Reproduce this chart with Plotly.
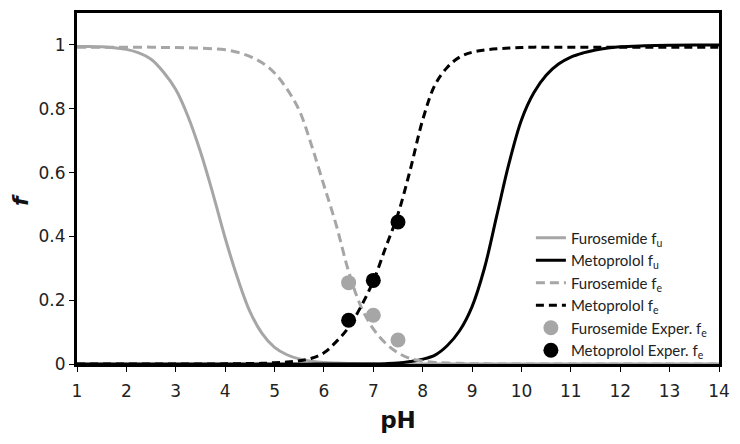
import plotly.graph_objects as go

# pH grid shared by the model curves (1 to 12 every 0.25, then every 0.5)
ph_grid = [1, 1.25, 1.5, 1.75, 2, 2.25, 2.5, 2.75, 3, 3.25, 3.5, 3.75,
           4, 4.25, 4.5, 4.75, 5, 5.25, 5.5, 5.75, 6, 6.25, 6.5, 6.75,
           7, 7.25, 7.5, 7.75, 8, 8.25, 8.5, 8.75, 9, 9.25, 9.5, 9.75,
           10, 10.25, 10.5, 10.75, 11, 11.25, 11.5, 11.75, 12, 12.5, 13, 13.5, 14]

furosemide_fu = [0.995, 0.995, 0.994, 0.991, 0.986, 0.975, 0.955, 0.915, 0.86, 0.775, 0.665, 0.535,
                 0.395, 0.27, 0.165, 0.095, 0.052, 0.029, 0.016, 0.009, 0.005, 0.003, 0.0017, 0.001,
                 0.0005, 0, 0, 0, 0, 0, 0, 0, 0, 0, 0, 0,
                 0, 0, 0, 0, 0, 0, 0, 0, 0, 0, 0, 0, 0]

metoprolol_fu = [0, 0, 0, 0, 0, 0, 0, 0, 0, 0, 0, 0,
                 0, 0, 0, 0, 0, 0, 0, 0, 0, 0, 0, 0,
                 0, 0.001, 0.003, 0.008, 0.015, 0.028, 0.058, 0.105, 0.18, 0.3, 0.465, 0.63,
                 0.765, 0.85, 0.905, 0.94, 0.962, 0.975, 0.984, 0.99, 0.994, 0.997, 0.999, 1.0, 1.0]

furosemide_fe = [0.993, 0.993, 0.993, 0.993, 0.993, 0.993, 0.993, 0.992, 0.992, 0.991, 0.99, 0.988,
                 0.985, 0.977, 0.964, 0.944, 0.912, 0.862, 0.795, 0.685, 0.56, 0.435, 0.29, 0.18,
                 0.11, 0.065, 0.035, 0.017, 0.009, 0.005, 0.003, 0.002, 0.001, 0.0005, 0, 0,
                 0, 0, 0, 0, 0, 0, 0, 0, 0, 0, 0, 0, 0]

metoprolol_fe = [0, 0, 0, 0, 0, 0, 0, 0, 0, 0, 0, 0,
                 0.0005, 0.001, 0.0015, 0.002, 0.004, 0.006, 0.01, 0.018, 0.035, 0.07, 0.115, 0.18,
                 0.26, 0.365, 0.47, 0.61, 0.765, 0.875, 0.93, 0.962, 0.977, 0.984, 0.988, 0.99,
                 0.992, 0.993, 0.993, 0.993, 0.993, 0.993, 0.993, 0.993, 0.993, 0.993, 0.993, 0.993, 0.993]

exp_ph = [6.5, 7.0, 7.5]
furosemide_exp = [0.255, 0.153, 0.075]
metoprolol_exp = [0.137, 0.262, 0.445]

names = ["Furosemide f<sub>u</sub>", "Metoprolol f<sub>u</sub>", "Furosemide f<sub>e</sub>",
         "Metoprolol f<sub>e</sub>", "Furosemide Exper. f<sub>e</sub>", "Metoprolol Exper. f<sub>e</sub>"]

GRAY = "#a6a6a6"
BLACK = "#000000"

fig = go.Figure()
fig.add_trace(go.Scatter(x=ph_grid, y=furosemide_fu, mode="lines", name=names[0],
                         line=dict(color=GRAY, width=3, shape="spline", smoothing=1.0)))
fig.add_trace(go.Scatter(x=ph_grid, y=metoprolol_fu, mode="lines", name=names[1],
                         line=dict(color=BLACK, width=3, shape="spline", smoothing=1.0)))
fig.add_trace(go.Scatter(x=ph_grid, y=furosemide_fe, mode="lines", name=names[2],
                         line=dict(color=GRAY, width=3, dash="9px,5px", shape="spline", smoothing=1.0)))
fig.add_trace(go.Scatter(x=ph_grid, y=metoprolol_fe, mode="lines", name=names[3],
                         line=dict(color=BLACK, width=3, dash="8px,5px", shape="spline", smoothing=1.0)))
fig.add_trace(go.Scatter(x=exp_ph, y=furosemide_exp, mode="markers", name=names[4],
                         marker=dict(color=GRAY, size=15)))
fig.add_trace(go.Scatter(x=exp_ph, y=metoprolol_exp, mode="markers", name=names[5],
                         marker=dict(color=BLACK, size=15)))

axis_common = dict(showgrid=False, zeroline=False, showline=True, linewidth=3, linecolor="black",
                   mirror=True, ticks="outside", ticklen=5, tickwidth=1, tickcolor="black",
                   layer="below traces", automargin=False)

fig.update_xaxes(range=[1, 14], tick0=1, dtick=1, ticklabelstandoff=5,
                 title=dict(text="<b>pH</b>", font=dict(size=23, color="#111"), standoff=12),
                 **axis_common)
fig.update_yaxes(range=[0, 1.1], tickvals=[0, 0.2, 0.4, 0.6, 0.8, 1],
                 ticktext=["0", "0.2", "0.4", "0.6", "0.8", "1"],
                 **axis_common)

# y-axis title placed slightly below the plot centre, as in the reference
fig.add_annotation(text="<b><i>f</i></b>", xref="paper", yref="paper", x=-0.089, y=0.467,
                   xanchor="center", yanchor="middle", textangle=-90, showarrow=False,
                   font=dict(family="DejaVu Sans", size=22, color="#111"))

# the page adds an 8px body margin, so the figure is sized to fit the 740x444 window
fig.update_layout(
    width=732, height=436,
    margin=dict(l=69, r=21, t=5, b=80),
    plot_bgcolor="white", paper_bgcolor="white",
    font=dict(family="DejaVu Sans", size=17, color="#222"),
    legend=dict(x=0.707, y=0.406, xanchor="left", yanchor="top", bgcolor="rgba(255,255,255,0)",
                font=dict(family="Lato", size=15, color="#222"), itemwidth=30,
                tracegroupgap=0),
)

fig.write_html("out.html")
